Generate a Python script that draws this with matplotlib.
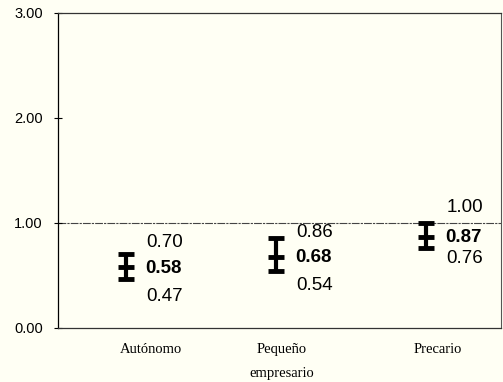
import matplotlib.pyplot as plt

# data
categorias = ['Autónomo', 'Pequeño\nempresario', 'Precario']
media = [0.58, 0.68, 0.87]
inferior = [0.47, 0.54, 0.76]
superior = [0.70, 0.86, 1.00]
y_ticks = [0.0, 1.0, 2.0, 3.0]

# label offsets (pixels) above/below the mean text, per category
desp_sup = [26, 25, 30]
desp_inf = [28, 28, 21]

fondo = '#fffff4'
fig = plt.figure(figsize=(5.03, 3.82), dpi=100, facecolor=fondo)
ax = fig.add_axes([0.1153, 0.1414, 0.8807, 0.8246], facecolor=fondo)

x = list(range(len(categorias)))
err_low = [m - lo for m, lo in zip(media, inferior)]
err_high = [hi - m for m, hi in zip(media, superior)]
ax.errorbar(x, media, yerr=[err_low, err_high], fmt='none', ecolor='black',
            elinewidth=3.0, capsize=6.0, capthick=3.5, zorder=3)
ax.plot(x, media, linestyle='none', marker='_', markersize=11, mew=3.5,
        color='black', zorder=3)

# value labels
px = 0.72  # points per pixel at dpi 100
for i, (xi, m, lo, hi) in enumerate(zip(x, media, inferior, superior)):
    ax.annotate('%.2f' % m, (xi, m), xytext=(14, -1 * px), textcoords='offset points',
                ha='left', va='center', fontsize=13.5, fontweight='bold',
                family='Liberation Sans')
    ax.annotate('%.2f' % hi, (xi, m), xytext=(15, (desp_sup[i] - 1) * px),
                textcoords='offset points', ha='left', va='center',
                fontsize=13.5, family='Liberation Sans')
    ax.annotate('%.2f' % lo, (xi, m), xytext=(15, -(desp_inf[i] + 1) * px),
                textcoords='offset points', ha='left', va='center',
                fontsize=13.5, family='Liberation Sans')

ax.axhline(1.0, color='#444444', linewidth=0.8, linestyle=(0, (7, 1, 2, 1)), zorder=1)

ax.set_xlim(-0.45, 2.5)
ax.set_ylim(0, 3)
ax.set_yticks(y_ticks)
ax.set_yticklabels(['%.2f' % v for v in y_ticks], family='Liberation Sans', fontsize=10.5)
ax.tick_params(axis='y', direction='inout', length=6, width=0.8, pad=8)

ax.set_xticks([0.17, 1.04, 2.08])
ax.set_xticklabels(categorias, family='Liberation Serif', fontsize=10.5, linespacing=2.1)
ax.tick_params(axis='x', length=0, pad=11)

for lado in ['top', 'bottom']:
    ax.spines[lado].set_linestyle((0, (8, 1, 3, 1)))
    ax.spines[lado].set_color('#333333')
    ax.spines[lado].set_linewidth(0.9)
ax.spines['left'].set_linewidth(0.9)
ax.spines['right'].set_color('#555555')
ax.spines['right'].set_linewidth(0.8)

plt.savefig('out.png', dpi=100, facecolor=fondo)
